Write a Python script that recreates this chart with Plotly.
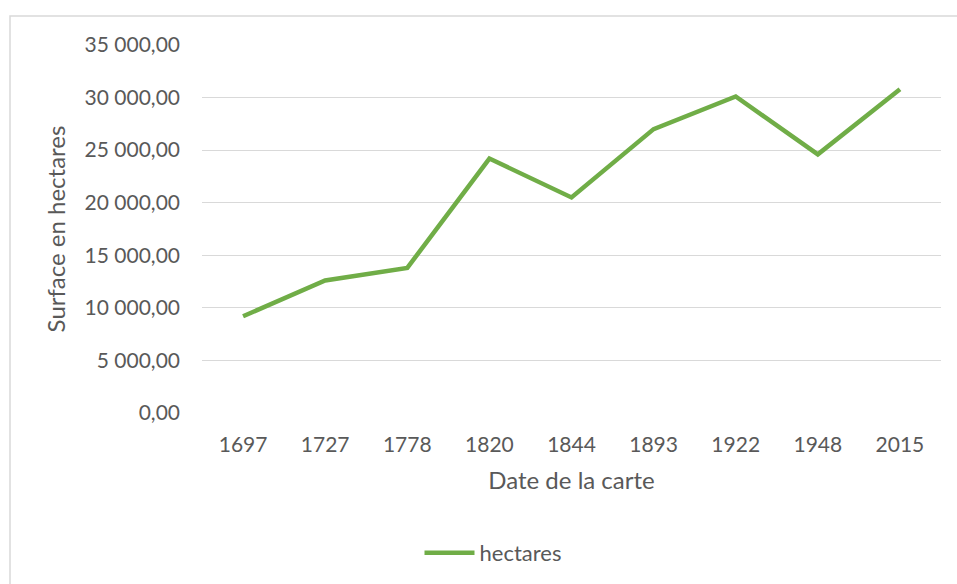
import plotly.graph_objects as go

# Map dates and measured surface (hectares)
dates = ["1697", "1727", "1778", "1820", "1844", "1893", "1922", "1948", "2015"]
hectares = [9200, 12600, 13800, 24200, 20500, 27000, 30100, 24600, 30800]
y_ticks = [0, 5000, 10000, 15000, 20000, 25000, 30000, 35000]

W, H = 957, 584
ML, MR, MT, MB = 202, 16, 45, 171
FONT = "Lato"
GREY = "#595959"

fig = go.Figure()
fig.add_trace(go.Scatter(
    x=dates, y=hectares, mode="lines", name="hectares",
    line=dict(color="#70AD47", width=4.5),
))

pw = W - ML - MR
ph = H - MT - MB
# light frame around the chart
fig.add_shape(
    type="rect", xref="paper", yref="paper",
    x0=(10 - ML) / pw, x1=(W + 5 - ML) / pw,
    y0=-(H + 5 - MT - ph) / ph, y1=(H - MB - 16) / ph,
    line=dict(color="#d9d9d9", width=1.5), fillcolor="rgba(0,0,0,0)", layer="below",
)

fig.update_layout(
    width=W, height=H,
    margin=dict(l=ML, r=MR, t=MT, b=MB, autoexpand=False),
    paper_bgcolor="white", plot_bgcolor="white",
    separators=", ",
    font=dict(family=FONT, size=21, color=GREY),
    showlegend=True,
    legend=dict(
        orientation="h", x=(493 - ML) / pw, xanchor="center", y=-0.38, yanchor="middle",
        itemwidth=50,
        font=dict(family=FONT, size=22, color=GREY),
    ),
    xaxis=dict(
        type="category", range=[-0.5, 8.5], automargin=False,
        showgrid=False, zeroline=False, showline=False,
        tickfont=dict(family=FONT, size=21, color=GREY),
        ticks="", ticklabelstandoff=17,
        title=dict(text="Date de la carte", standoff=17,
                   font=dict(family=FONT, size=24, color=GREY)),
    ),
    yaxis=dict(
        range=[0, 35000], tickvals=y_ticks, tickformat=",.2f", automargin=False,
        showgrid=True, gridcolor="#d9d9d9", gridwidth=1.3,
        tickfont=dict(family=FONT, size=21, color=GREY),
        zeroline=False, showline=False, ticks="", ticklabelstandoff=21,
        title=dict(text="Surface en hectares", standoff=12,
                   font=dict(family=FONT, size=24, color=GREY)),
    ),
)

fig.write_html("out.html")
